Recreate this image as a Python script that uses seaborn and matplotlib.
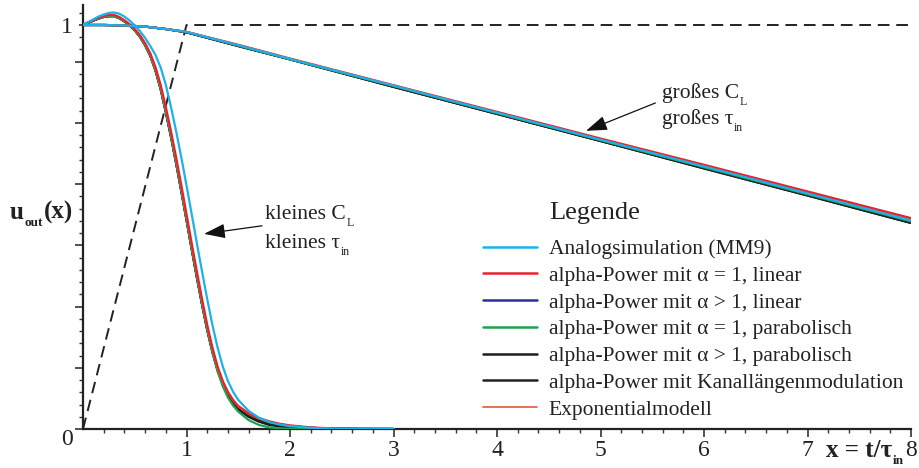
import numpy as np
import pandas as pd
import matplotlib
matplotlib.use("Agg")
import matplotlib.pyplot as plt
import seaborn as sns
from matplotlib.lines import Line2D

# ---------------- data ----------------
x_input = [0.0, 1.0, 8.0]
y_input = [0.0, 1.0, 1.0]

x_fast = [0.0, 0.05, 0.1, 0.15, 0.2, 0.25, 0.3, 0.35, 0.4, 0.45, 0.5, 0.55, 0.6, 0.65,
          0.7, 0.75, 0.8, 0.85, 0.9, 0.95, 1.0, 1.05, 1.1, 1.15, 1.2, 1.25, 1.3, 1.35,
          1.4, 1.45, 1.5, 1.6, 1.7, 1.8, 1.9, 2.0, 2.2, 2.4, 2.7, 3.0]
fast_analog = [1.0, 1.007, 1.014, 1.021, 1.026, 1.03, 1.031, 1.028, 1.021, 1.011, 0.999,
               0.985, 0.968, 0.948, 0.926, 0.895, 0.852, 0.797, 0.737, 0.672, 0.603,
               0.532, 0.46, 0.39, 0.322, 0.258, 0.202, 0.155, 0.119, 0.092, 0.072,
               0.045, 0.028, 0.017, 0.011, 0.007, 0.003, 0.001, 0.0002, 0.0]
fast_a1_lin = [1.0, 1.006, 1.012, 1.018, 1.022, 1.025, 1.025, 1.02, 1.012, 1.002, 0.99,
               0.975, 0.955, 0.93, 0.896, 0.852, 0.797, 0.737, 0.672, 0.603, 0.532,
               0.46, 0.39, 0.322, 0.258, 0.202, 0.155, 0.119, 0.092, 0.072, 0.057,
               0.039, 0.027, 0.019, 0.013, 0.009, 0.004, 0.0015, 0.0003, 0.0]
fast_ag1_lin = [1.0, 1.006, 1.011, 1.016, 1.02, 1.022, 1.022, 1.017, 1.009, 0.999, 0.987,
                0.971, 0.95, 0.924, 0.888, 0.842, 0.785, 0.724, 0.658, 0.589, 0.518,
                0.446, 0.376, 0.309, 0.246, 0.192, 0.147, 0.113, 0.087, 0.068, 0.054,
                0.036, 0.024, 0.016, 0.011, 0.007, 0.003, 0.001, 0.0002, 0.0]
fast_a1_par = [1.0, 1.006, 1.011, 1.016, 1.02, 1.022, 1.022, 1.017, 1.009, 0.999, 0.987,
               0.971, 0.95, 0.924, 0.888, 0.842, 0.785, 0.724, 0.658, 0.589, 0.518,
               0.446, 0.376, 0.309, 0.246, 0.19, 0.143, 0.106, 0.078, 0.058, 0.043,
               0.022, 0.01, 0.004, 0.0015, 0.0005, 0.0, 0.0, 0.0, 0.0]
fast_ag1_par = [1.0, 1.006, 1.011, 1.016, 1.02, 1.022, 1.022, 1.017, 1.009, 0.999, 0.987,
                0.971, 0.95, 0.924, 0.888, 0.842, 0.785, 0.724, 0.658, 0.589, 0.518,
                0.446, 0.376, 0.309, 0.246, 0.191, 0.145, 0.11, 0.083, 0.063, 0.048,
                0.03, 0.018, 0.01, 0.006, 0.003, 0.001, 0.0003, 0.0, 0.0]
fast_kanal = [1.0, 1.006, 1.011, 1.016, 1.02, 1.022, 1.022, 1.017, 1.009, 0.999, 0.987,
              0.971, 0.95, 0.924, 0.888, 0.842, 0.785, 0.724, 0.658, 0.589, 0.518,
              0.446, 0.376, 0.309, 0.246, 0.192, 0.147, 0.112, 0.086, 0.066, 0.052,
              0.034, 0.022, 0.014, 0.009, 0.006, 0.0025, 0.001, 0.0002, 0.0]
fast_expo = [1.0, 1.006, 1.012, 1.017, 1.021, 1.024, 1.024, 1.019, 1.011, 1.001, 0.989,
             0.973, 0.953, 0.927, 0.892, 0.847, 0.791, 0.731, 0.665, 0.596, 0.525,
             0.453, 0.383, 0.316, 0.252, 0.197, 0.151, 0.116, 0.09, 0.07, 0.055,
             0.037, 0.025, 0.017, 0.012, 0.008, 0.0035, 0.0012, 0.0002, 0.0]

x_slow = [0.0, 0.2, 0.4, 0.6, 0.8, 1.0, 1.5, 2.0, 3.0, 4.0, 5.0, 6.0, 7.0, 8.0]
slow_analog = [1.0, 1.0, 0.999, 0.996, 0.99, 0.983, 0.95, 0.916, 0.85, 0.783, 0.716, 0.65, 0.583, 0.516]
slow_a1_lin = [1.0, 1.0, 0.999, 0.996, 0.99, 0.983, 0.951, 0.917, 0.851, 0.785, 0.719, 0.654, 0.588, 0.522]
slow_ag1_lin = [1.0, 1.0, 0.999, 0.996, 0.99, 0.982, 0.948, 0.915, 0.847, 0.78, 0.713, 0.645, 0.578, 0.51]
slow_a1_par = [1.0, 1.0, 0.999, 0.996, 0.99, 0.983, 0.949, 0.915, 0.849, 0.782, 0.715, 0.648, 0.581, 0.514]
slow_ag1_par = [1.0, 1.0, 0.999, 0.996, 0.99, 0.982, 0.948, 0.915, 0.847, 0.78, 0.713, 0.645, 0.578, 0.51]
slow_kanal = [1.0, 1.0, 0.999, 0.996, 0.99, 0.982, 0.948, 0.915, 0.847, 0.78, 0.713, 0.646, 0.579, 0.511]
slow_expo = [1.0, 1.0, 0.999, 0.996, 0.99, 0.983, 0.95, 0.916, 0.85, 0.784, 0.717, 0.651, 0.585, 0.518]

labels = ["Analogsimulation (MM9)",
          "alpha-Power mit α = 1, linear",
          "alpha-Power mit α > 1, linear",
          "alpha-Power mit α = 1, parabolisch",
          "alpha-Power mit α > 1, parabolisch",
          "alpha-Power mit Kanallängenmodulation",
          "Exponentialmodell"]
colors = ["#1ab2ea", "#e8212b", "#2b2f96", "#1fa34f", "#1c1c1c", "#222222", "#e2694a"]
fast_series = [fast_analog, fast_a1_lin, fast_ag1_lin, fast_a1_par, fast_ag1_par, fast_kanal, fast_expo]
slow_series = [slow_analog, slow_a1_lin, slow_ag1_lin, slow_a1_par, slow_ag1_par, slow_kanal, slow_expo]

x_ticks = [1, 2, 3, 4, 5, 6, 7, 8]
x_ticklabels = ["1", "2", "3", "4", "5", "6", "7", "8"]
vdd = 3.3  # normalisation: 1 == 3.3 V

# ---------------- style ----------------
sns.set_style("ticks")
plt.rcParams["font.family"] = ["Liberation Serif", "DejaVu Serif"]

TXT = "#222222"
fig = plt.figure(figsize=(9.19, 4.68), dpi=100)
ax = fig.add_axes([83 / 919, 1 - 429 / 468, (911 - 83) / 919, (429 - 5) / 468])

# input ramp
sns.lineplot(x=x_input, y=y_input, ax=ax, color="#222222", linewidth=1.4,
             linestyle=(0, (6, 3.5)), zorder=2)

# draw order: dark ones first, red, exponential, analog on top
order = [2, 4, 5, 3, 6, 1, 0]
for i in order:
    lw = 1.6 if i != 6 else 1.2
    sns.lineplot(x=x_slow, y=slow_series[i], ax=ax, color=colors[i],
                 linewidth=lw, zorder=3, sort=False)
    sns.lineplot(x=x_fast, y=fast_series[i], ax=ax, color=colors[i],
                 linewidth=lw, zorder=3, sort=False)

ax.set_xlim(0, 8)
ax.set_ylim(0, (429 - 5) / 404)
sns.despine(ax=ax)
for s in ("left", "bottom"):
    ax.spines[s].set_linewidth(1.6)
    ax.spines[s].set_color("#222222")

ax.set_xticks(x_ticks)
ax.set_xticklabels(x_ticklabels)
ax.set_xticks(np.arange(0.2, 8.0, 0.2), minor=True)
y_major = [k * 0.5 / vdd for k in range(0, 7)] + [1.0]
ax.set_yticks(y_major)
ax.set_yticklabels(["0", "", "", "", "", "", "", "1"])
ax.set_yticks([k * 0.1 / vdd for k in range(1, 35) if k % 5 != 0 and k != 33], minor=True)
ax.tick_params(axis="both", which="major", direction="out", length=6, width=1.2,
               color="#333333", labelsize=17, labelcolor=TXT)
ax.tick_params(axis="both", which="minor", direction="out", length=3.2, width=1.0,
               color="#333333")
ax.tick_params(axis="x", which="major", pad=2)
ax.tick_params(axis="y", which="major", pad=1.5)
ax.yaxis.get_major_ticks()[-1].tick1line.set_markersize(3.2)
for t in ax.get_yticklabels():
    if t.get_text() == "0":
        t.set_va("top")
ax.set_xlabel("")
ax.set_ylabel("")


def sub_label(x, y, main, sub, fs, sfs, trans, weight="normal", after=None):
    t = ax.text(x, y, main, fontsize=fs, ha="left", va="baseline", color=TXT,
                fontweight=weight, transform=trans)
    s = ax.annotate(sub, xy=(1, 0), xycoords=t, xytext=(0.5, -1.5),
                    textcoords="offset points", fontsize=sfs, ha="left", va="baseline",
                    color=TXT, fontweight=weight)
    if after is not None:
        ax.annotate(after, xy=(1, 0), xycoords=(s, t), xytext=(0.5, 0),
                    textcoords="offset points", fontsize=fs, ha="left", va="bottom",
                    color=TXT, fontweight=weight)
    return t


# axis labels
sub_label(10 / 919, 1 - 219 / 468, "u", "out", 18, 9.5, fig.transFigure, "bold", "(x)")
sub_label(826 / 919, 1 - 457 / 468, "x = t/τ", "in", 18, 9.5, fig.transFigure, "bold")

# annotations
ann_fs = 15.5
arrow_kw = dict(arrowstyle="-|>,head_length=1.3,head_width=0.45", color="#111111",
                lw=0.9, mutation_scale=10, shrinkA=0, shrinkB=0)
ax.annotate("", xy=(1.17, 0.483), xytext=(1.73, 0.503), arrowprops=arrow_kw)
sub_label(1.76, 0.52, "kleines C", "L", ann_fs, 8.5, ax.transData)
sub_label(1.76, 0.448, "kleines τ", "in", ann_fs, 8.5, ax.transData)
ax.annotate("", xy=(4.86, 0.738), xytext=(5.53, 0.807), arrowprops=arrow_kw)
sub_label(5.59, 0.819, "großes C", "L", ann_fs, 8.5, ax.transData)
sub_label(5.59, 0.755, "großes τ", "in", ann_fs, 8.5, ax.transData)

# legend
fig.text(549 / 919, 1 - 213 / 468, "Legende", fontsize=19, ha="left", va="center",
         color=TXT)
handles = [Line2D([0], [0], color=c, lw=1.8 if i != 6 else 1.3) for i, c in enumerate(colors)]
leg = ax.legend(handles, labels, loc="upper left",
                bbox_to_anchor=(483 / 919, 1 - 239 / 468), bbox_transform=fig.transFigure,
                frameon=False, fontsize=15.5, handlelength=2.5, handletextpad=0.55,
                labelspacing=0.31, borderpad=0, borderaxespad=0)
for t in leg.get_texts():
    t.set_color(TXT)

fig.savefig("out.png", dpi=100)
